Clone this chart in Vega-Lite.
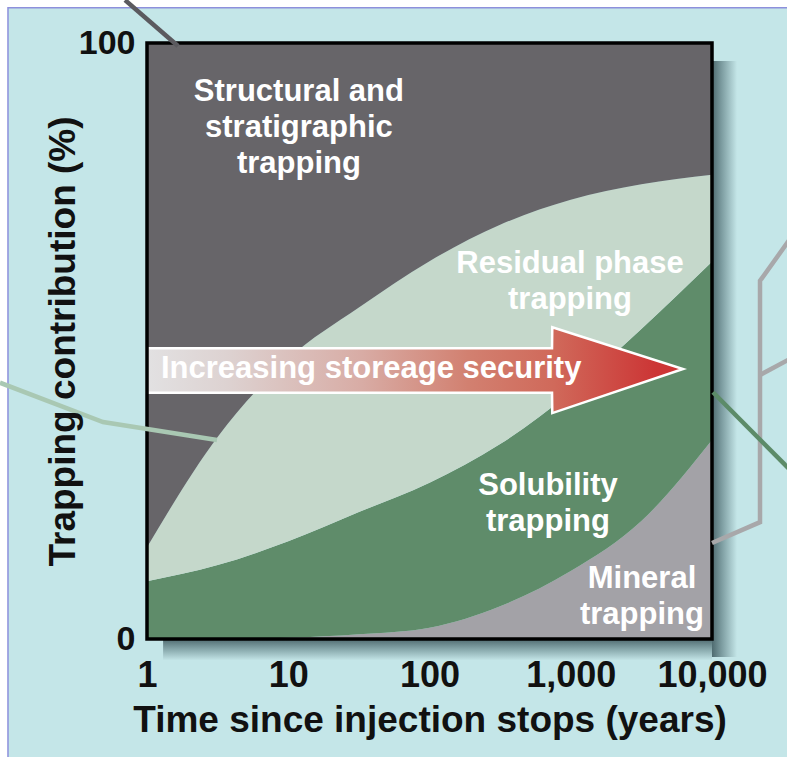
{
  "$schema": "https://vega.github.io/schema/vega-lite/v6.json",
  "width": 565,
  "height": 596,
  "autosize": {"type": "none"},
  "padding": {"left": 147, "top": 43, "right": 75, "bottom": 118},
  "background": "#ffffff",
  "config": {
    "view": {"stroke": null},
    "font": "Liberation Sans",
    "axisX": {
      "labelFontSize": 36, "labelFontWeight": "bold", "labelColor": "#111111",
      "labelPadding": 19, "ticks": false, "tickSize": 0, "domain": false, "grid": false,
      "labelOverlap": false, "labelFlush": false,
      "titleFontSize": 37, "titleFontWeight": "bold", "titleColor": "#111111", "titlePadding": 9
    },
    "axisY": {
      "labelFontSize": 34, "labelFontWeight": "bold", "labelColor": "#111111",
      "labelPadding": 12, "ticks": false, "tickSize": 0, "domain": false, "grid": false,
      "labelOverlap": false, "labelFlush": false,
      "titleFontSize": 37, "titleFontWeight": "bold", "titleColor": "#111111", "titlePadding": -4
    }
  },
  "data": {"values": [{}]},
  "datasets": {
    "shares": [
      {"year": 1, "mechanism": "Mineral trapping", "share": 0},
      {"year": 1, "mechanism": "Solubility trapping", "share": 9.7},
      {"year": 1, "mechanism": "Residual phase trapping", "share": 5.7},
      {"year": 1, "mechanism": "Structural and stratigraphic trapping", "share": 84.6},
      {"year": 3.162, "mechanism": "Mineral trapping", "share": 0},
      {"year": 3.162, "mechanism": "Solubility trapping", "share": 12.4},
      {"year": 3.162, "mechanism": "Residual phase trapping", "share": 21.5},
      {"year": 3.162, "mechanism": "Structural and stratigraphic trapping", "share": 66.1},
      {"year": 10, "mechanism": "Mineral trapping", "share": 0.2},
      {"year": 10, "mechanism": "Solubility trapping", "share": 16.2},
      {"year": 10, "mechanism": "Residual phase trapping", "share": 30.6},
      {"year": 10, "mechanism": "Structural and stratigraphic trapping", "share": 53.0},
      {"year": 31.62, "mechanism": "Mineral trapping", "share": 0.8},
      {"year": 31.62, "mechanism": "Solubility trapping", "share": 20.5},
      {"year": 31.62, "mechanism": "Residual phase trapping", "share": 34.3},
      {"year": 31.62, "mechanism": "Structural and stratigraphic trapping", "share": 44.4},
      {"year": 100, "mechanism": "Mineral trapping", "share": 1.9},
      {"year": 100, "mechanism": "Solubility trapping", "share": 24.3},
      {"year": 100, "mechanism": "Residual phase trapping", "share": 37.2},
      {"year": 100, "mechanism": "Structural and stratigraphic trapping", "share": 36.6},
      {"year": 316.2, "mechanism": "Mineral trapping", "share": 5.5},
      {"year": 316.2, "mechanism": "Solubility trapping", "share": 27.2},
      {"year": 316.2, "mechanism": "Residual phase trapping", "share": 36.8},
      {"year": 316.2, "mechanism": "Structural and stratigraphic trapping", "share": 30.5},
      {"year": 1000, "mechanism": "Mineral trapping", "share": 11.4},
      {"year": 1000, "mechanism": "Solubility trapping", "share": 30.0},
      {"year": 1000, "mechanism": "Residual phase trapping", "share": 32.3},
      {"year": 1000, "mechanism": "Structural and stratigraphic trapping", "share": 26.3},
      {"year": 3162, "mechanism": "Mineral trapping", "share": 19.8},
      {"year": 3162, "mechanism": "Solubility trapping", "share": 32.2},
      {"year": 3162, "mechanism": "Residual phase trapping", "share": 24.3},
      {"year": 3162, "mechanism": "Structural and stratigraphic trapping", "share": 23.7},
      {"year": 10000, "mechanism": "Mineral trapping", "share": 33.4},
      {"year": 10000, "mechanism": "Solubility trapping", "share": 29.9},
      {"year": 10000, "mechanism": "Residual phase trapping", "share": 14.6},
      {"year": 10000, "mechanism": "Structural and stratigraphic trapping", "share": 22.1}
    ],
    "arrow": [
      {"year": 1, "top": 48.8, "bottom": 41.3},
      {"year": 737, "top": 48.8, "bottom": 41.3},
      {"year": 740, "top": 52.3, "bottom": 37.9},
      {"year": 6236, "top": 45.3, "bottom": 45.3}
    ],
    "regionLabels": [
      {"year": 11.9, "pct": 90.3, "label": "Structural and\nstratigraphic\ntrapping"},
      {"year": 988, "pct": 61.4, "label": "Residual phase\ntrapping"},
      {"year": 690, "pct": 24.2, "label": "Solubility\ntrapping"},
      {"year": 3194, "pct": 8.6, "label": "Mineral\ntrapping"}
    ],
    "arrowLabel": [
      {"year": 1.256, "pct": 43.8, "label": "Increasing storeage security"}
    ],
    "leaders": [
      {"path": "structural", "seq": 0, "year": 0.699, "pct": 107.2},
      {"path": "structural", "seq": 1, "year": 1.658, "pct": 99.5},
      {"path": "residual", "seq": 0, "year": 0.091, "pct": 43.0},
      {"path": "residual", "seq": 1, "year": 0.488, "pct": 36.4},
      {"path": "residual", "seq": 2, "year": 3.13, "pct": 33.4},
      {"path": "mineral", "seq": 0, "year": 35650, "pct": 67.1},
      {"path": "mineral", "seq": 1, "year": 21870, "pct": 60.1},
      {"path": "mineral", "seq": 2, "year": 21870, "pct": 19.6},
      {"path": "mineral", "seq": 3, "year": 10000, "pct": 16.1},
      {"path": "mineral branch", "seq": 0, "year": 21870, "pct": 44.3},
      {"path": "mineral branch", "seq": 1, "year": 35650, "pct": 47.0},
      {"path": "solubility", "seq": 0, "year": 10160, "pct": 41.4},
      {"path": "solubility", "seq": 1, "year": 35650, "pct": 28.4}
    ]
  },
  "layer": [
    {
      "description": "Light cyan panel behind the whole figure",
      "mark": {"type": "rect", "fill": "#c4e6e8", "stroke": "#8d90dc", "strokeWidth": 1.5},
      "encoding": {
        "x": {"datum": 0.1037, "type": "quantitative", "scale": {"type": "log", "domain": [1, 10000], "nice": false}},
        "x2": {"datum": 1000000},
        "y": {"datum": 105.9, "type": "quantitative", "scale": {"domain": [0, 100], "nice": false, "zero": false}},
        "y2": {"datum": -50}
      }
    },
    {
      "description": "Soft drop shadow on the right of the plot",
      "mark": {"type": "rect", "fill": {"gradient": "linear", "x1": 0, "y1": 0, "x2": 1, "y2": 0, "stops": [{"offset": 0, "color": "#4f6b70"}, {"offset": 0.4, "color": "#7e9ea2"}, {"offset": 1, "color": "#c4e6e8"}]}},
      "encoding": {
        "x": {"datum": 10000, "type": "quantitative"},
        "x2": {"datum": 15040},
        "y": {"datum": 97, "type": "quantitative"},
        "y2": {"datum": -3}
      }
    },
    {
      "description": "Soft drop shadow below the plot",
      "mark": {"type": "rect", "fill": {"gradient": "linear", "x1": 0, "y1": 0, "x2": 0, "y2": 1, "stops": [{"offset": 0, "color": "#4f6b70"}, {"offset": 0.4, "color": "#7e9ea2"}, {"offset": 1, "color": "#c4e6e8"}]}},
      "encoding": {
        "x": {"datum": 1.3, "type": "quantitative"},
        "x2": {"datum": 10000},
        "y": {"datum": 0, "type": "quantitative"},
        "y2": {"datum": -3.6}
      }
    },
    {
      "description": "Stacked contribution of each trapping mechanism",
      "data": {"name": "shares"},
      "transform": [
        {"calculate": "indexof(['Mineral trapping', 'Solubility trapping', 'Residual phase trapping', 'Structural and stratigraphic trapping'], datum.mechanism)", "as": "stackOrder"}
      ],
      "mark": {"type": "area", "interpolate": "monotone"},
      "encoding": {
        "x": {
          "field": "year", "type": "quantitative",
          "scale": {"type": "log", "domain": [1, 10000], "nice": false},
          "axis": {"title": "Time since injection stops (years)", "values": [1, 10, 100, 1000, 10000], "format": ",", "zindex": 2}
        },
        "y": {
          "field": "share", "type": "quantitative", "stack": "zero",
          "scale": {"domain": [0, 100], "nice": false, "zero": false},
          "axis": {"title": "Trapping contribution (%)", "values": [0, 100], "zindex": 2}
        },
        "color": {
          "field": "mechanism", "type": "nominal",
          "scale": {
            "domain": ["Mineral trapping", "Solubility trapping", "Residual phase trapping", "Structural and stratigraphic trapping"],
            "range": ["#a3a2a7", "#5f8c6a", "#c5d8cb", "#676569"]
          },
          "legend": null
        },
        "order": {"field": "stackOrder", "type": "quantitative"}
      }
    },
    {
      "description": "Arrow: increasing storage security over time",
      "data": {"name": "arrow"},
      "mark": {
        "type": "area", "stroke": "#ffffff", "strokeWidth": 2.5, "strokeJoin": "miter",
        "color": {"gradient": "linear", "x1": 0, "y1": 0, "x2": 1, "y2": 0, "stops": [
          {"offset": 0, "color": "#e2e1e2"},
          {"offset": 0.15, "color": "#ddd2d1"},
          {"offset": 0.4, "color": "#d8aca5"},
          {"offset": 0.6, "color": "#d28070"},
          {"offset": 0.76, "color": "#d0695a"},
          {"offset": 0.95, "color": "#cc3535"},
          {"offset": 1, "color": "#cc3535"}
        ]}
      },
      "encoding": {
        "x": {"field": "year", "type": "quantitative"},
        "y": {"field": "top", "type": "quantitative"},
        "y2": {"field": "bottom"}
      }
    },
    {
      "description": "Region labels",
      "data": {"name": "regionLabels"},
      "mark": {"type": "text", "align": "center", "baseline": "alphabetic", "fontSize": 31, "fontWeight": "bold", "lineBreak": "\n", "lineHeight": 36, "color": "#ffffff"},
      "encoding": {
        "x": {"field": "year", "type": "quantitative"},
        "y": {"field": "pct", "type": "quantitative"},
        "text": {"field": "label"}
      }
    },
    {
      "description": "Arrow caption",
      "data": {"name": "arrowLabel"},
      "mark": {"type": "text", "align": "left", "baseline": "alphabetic", "fontSize": 31, "fontWeight": "bold", "color": "#ffffff"},
      "encoding": {
        "x": {"field": "year", "type": "quantitative"},
        "y": {"field": "pct", "type": "quantitative"},
        "text": {"field": "label"}
      }
    },
    {
      "description": "Black frame around the plot",
      "mark": {"type": "rect", "fill": null, "stroke": "#000000", "strokeWidth": 3.5},
      "encoding": {
        "x": {"datum": 1, "type": "quantitative"},
        "x2": {"datum": 10000},
        "y": {"datum": 100, "type": "quantitative"},
        "y2": {"datum": 0}
      }
    },
    {
      "description": "Leader lines linking each region to the surrounding figure",
      "data": {"name": "leaders"},
      "mark": {"type": "line", "strokeWidth": 4.5, "strokeJoin": "miter"},
      "encoding": {
        "x": {"field": "year", "type": "quantitative"},
        "y": {"field": "pct", "type": "quantitative"},
        "detail": {"field": "path"},
        "order": {"field": "seq", "type": "quantitative"},
        "stroke": {
          "field": "path", "type": "nominal",
          "scale": {"domain": ["structural", "residual", "mineral", "mineral branch", "solubility"], "range": ["#5b5a5f", "#a9c8b3", "#a8a8aa", "#a8a8aa", "#5c8b68"]},
          "legend": null
        }
      }
    }
  ]
}
